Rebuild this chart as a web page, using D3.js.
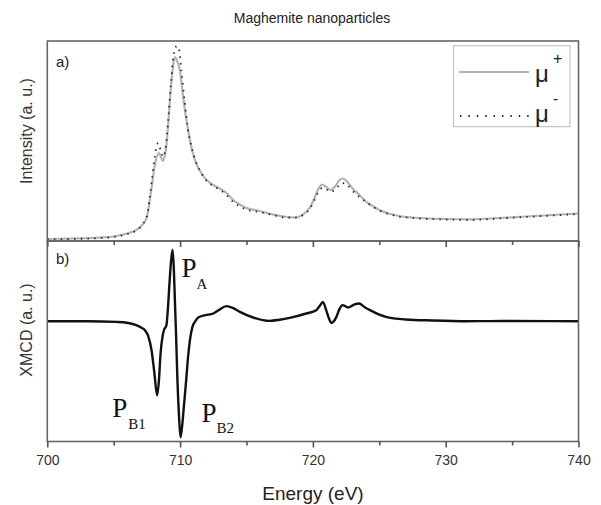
<!DOCTYPE html>
<html><head><meta charset="utf-8">
<script src="https://cdn.jsdelivr.net/npm/d3@7"></script>
<style>
html,body{margin:0;padding:0;background:#fff;}
svg{display:block;font-family:"Liberation Sans",Arial,sans-serif;}
</style></head>
<body>
<svg id="chart" width="601" height="505"></svg>
<script>
// ---------- data ----------
const title = "Maghemite nanoparticles";
const xTicks = [700, 710, 720, 730, 740];
const xMinorTicks = [705, 715, 725, 735];

const energyPlus = [700,702,704,705,706,706.7,707.2,707.5,707.85,708.1,708.4,708.55,708.7,708.85,708.95,709.1,709.25,709.45,709.6,709.75,709.98,710.23,710.6,710.9,711.2,711.6,712,712.5,713,713.5,714,714.5,715,716,717,718,718.7,719.3,719.8,720.15,720.45,720.7,721,721.3,721.7,722,722.25,722.6,723,723.5,724,724.5,725,725.7,726.5,728,730,732,734,736,738,740];
const muPlus = [0.02,0.025,0.035,0.045,0.075,0.11,0.17,0.24,0.53,0.76,0.88,0.84,0.80,0.86,0.94,1.16,1.44,1.73,1.84,1.81,1.71,1.44,1.11,0.91,0.78,0.68,0.61,0.56,0.525,0.48,0.41,0.365,0.33,0.30,0.265,0.24,0.235,0.27,0.34,0.44,0.53,0.565,0.54,0.51,0.55,0.61,0.625,0.59,0.525,0.46,0.395,0.35,0.31,0.275,0.25,0.23,0.22,0.217,0.23,0.245,0.26,0.275];

const energyMinus = [700,702,704,705,706,706.7,707.2,707.5,707.85,708.1,708.35,708.55,708.7,708.9,709.1,709.3,709.5,709.75,709.9,710.1,710.35,710.6,710.9,711.2,711.6,712,712.5,713,713.5,714,714.5,715,716,717,718,718.7,719.3,719.8,720.15,720.45,720.7,721,721.3,721.7,722,722.2,722.6,723,723.6,724,724.5,725,725.7,726.5,728,730,732,734,736,738,740];
const muMinus = [0.015,0.02,0.03,0.04,0.07,0.105,0.17,0.25,0.58,0.85,0.98,0.90,0.84,0.92,1.2,1.55,1.85,1.95,1.93,1.7,1.38,1.11,0.92,0.79,0.68,0.60,0.55,0.51,0.46,0.39,0.345,0.315,0.29,0.26,0.235,0.235,0.265,0.33,0.42,0.50,0.53,0.52,0.49,0.52,0.56,0.58,0.56,0.50,0.43,0.39,0.345,0.305,0.27,0.245,0.225,0.215,0.212,0.225,0.24,0.255,0.27];

const energyX = [700,703,705.2,706,706.7,707.1,707.35,707.6,707.85,708.05,708.27,708.4,708.53,708.68,708.78,708.97,709.08,709.2,709.32,709.43,709.52,709.6,709.7,709.8,709.92,710.03,710.15,710.28,710.45,710.6,710.75,710.93,711.15,711.36,711.9,712.5,712.9,713.5,714,714.5,715.5,716.75,717.5,718.25,719.5,720.25,720.55,720.75,721,721.2,721.4,721.55,721.77,722,722.23,722.65,723.1,723.47,723.9,724.3,725.5,727,729,731.6,735,740];
const xmcd = [0,0,-0.007,-0.015,-0.04,-0.065,-0.09,-0.15,-0.29,-0.5,-0.74,-0.6,-0.32,-0.15,-0.09,-0.04,0.12,0.377,0.6,0.71,0.55,0.24,-0.15,-0.59,-0.95,-1.157,-1.05,-0.857,-0.6,-0.357,-0.18,-0.057,0,0.037,0.06,0.077,0.11,0.15,0.13,0.093,0.037,0.003,0.015,0.033,0.077,0.11,0.16,0.193,0.11,0.03,-0.017,-0.005,0.043,0.12,0.16,0.137,0.165,0.177,0.14,0.11,0.043,0.017,0.007,0,0.002,0];

const peakLabels = [
  {main:"P", sub:"A",  e:709.43, v:0.71,  dx:9,   dy:27, sdx:15, sdy:12},
  {main:"P", sub:"B1", e:708.27, v:-0.74, dx:-45, dy:22, sdx:16, sdy:12},
  {main:"P", sub:"B2", e:710.03, v:-1.157,dx:21,  dy:-15, sdx:15, sdy:11}
];

// ---------- layout ----------
const svg = d3.select("#chart");
const L = 47.3, R = 578.5;
const aTop = 41, aBot = 241, bTop = 241, bBot = 441.5;

const x = d3.scaleLinear().domain([700, 740]).range([L, R]);
const yA = d3.scaleLinear().domain([0, 2]).range([aBot, aTop]);
const yB = d3.scaleLinear().domain([-1.2, 0.8]).range([bBot, bTop]);

const frameCol = "#666";

// curves
const lineA = d3.line().x(d => x(d[0])).y(d => yA(d[1])).curve(d3.curveMonotoneX);
const lineB = d3.line().x(d => x(d[0])).y(d => yB(d[1])).curve(d3.curveMonotoneX);

svg.append("path").datum(d3.zip(energyPlus, muPlus))
  .attr("d", lineA).attr("fill","none").attr("stroke","#b3b3b3").attr("stroke-width",2.2);
svg.append("path").datum(d3.zip(energyMinus, muMinus))
  .attr("d", lineA).attr("fill","none").attr("stroke","#222").attr("stroke-width",1.8)
  .attr("stroke-dasharray","1.4 5.3");
svg.append("path").datum(d3.zip(energyX, xmcd))
  .attr("d", lineB).attr("fill","none").attr("stroke","#111").attr("stroke-width",2.4)
  .attr("stroke-linejoin","round");

// frames
[[aTop,aBot],[bTop,bBot]].forEach(([t,b]) => {
  svg.append("rect").attr("x",L).attr("y",t).attr("width",R-L).attr("height",b-t)
    .attr("fill","none").attr("stroke",frameCol).attr("stroke-width",1.6);
});

// axes (ticks outward / downward)
function drawXAxis(yPos, labels) {
  const g = svg.append("g").attr("transform",`translate(0,${yPos})`);
  g.call(d3.axisBottom(x).tickValues(xTicks).tickSize(6).tickFormat(labels ? d3.format("d") : ""));
  const gm = svg.append("g").attr("transform",`translate(0,${yPos})`);
  gm.call(d3.axisBottom(x).tickValues(xMinorTicks).tickSize(4).tickFormat(""));
  [g, gm].forEach(s => {
    s.select(".domain").remove();
    s.selectAll(".tick line").attr("stroke","#555").attr("stroke-width",1.6);
  });
  g.selectAll(".tick text").attr("font-size",14).attr("fill","#333")
    .attr("font-family","Liberation Sans, Arial, sans-serif").attr("dy","1.05em");
}
drawXAxis(aBot, false);
drawXAxis(bBot, true);

// legend
const lg = svg.append("g");
lg.append("rect").attr("x",453.5).attr("y",45.7).attr("width",116.5).attr("height",81)
  .attr("fill","#fff").attr("stroke","#b8b8b8").attr("stroke-width",1);
lg.append("line").attr("x1",459).attr("x2",529).attr("y1",72).attr("y2",72)
  .attr("stroke","#b3b3b3").attr("stroke-width",2);
lg.append("line").attr("x1",460).attr("x2",529).attr("y1",116).attr("y2",116)
  .attr("stroke","#222").attr("stroke-width",1.8).attr("stroke-dasharray","1.4 7");
const legendItems = [{sup:"+", y:82}, {sup:"-", y:122}];
legendItems.forEach(it => {
  lg.append("text").attr("x",535).attr("y",it.y).attr("font-size",24).attr("fill","#222")
    .text("μ");
  lg.append("text").attr("x",553).attr("y",it.y-18).attr("font-size",16).attr("fill","#222")
    .text(it.sup);
});

// panel tags
svg.append("text").attr("x",56).attr("y",67).attr("font-size",15).attr("fill","#222").text("a)");
svg.append("text").attr("x",56).attr("y",264).attr("font-size",15).attr("fill","#222").text("b)");

// peak annotations
peakLabels.forEach(p => {
  const px = x(p.e) + p.dx, py = yB(p.v) + p.dy;
  svg.append("text").attr("x",px).attr("y",py).attr("font-family","Liberation Serif, Times New Roman, serif")
    .attr("font-size",27).attr("fill","#111").text(p.main);
  svg.append("text").attr("x",px+p.sdx).attr("y",py+p.sdy).attr("font-family","Liberation Serif, Times New Roman, serif")
    .attr("font-size",15).attr("fill","#111").text(p.sub);
});

// titles
svg.append("text").attr("x",312).attr("y",23).attr("text-anchor","middle")
  .attr("font-size",14).attr("fill","#222").text(title);
svg.append("text").attr("x",313).attr("y",500).attr("text-anchor","middle")
  .attr("font-size",19).attr("fill","#222").text("Energy (eV)");
svg.append("text").attr("transform","translate(32,131) rotate(-90)").attr("text-anchor","middle")
  .attr("font-size",16).attr("fill","#333").text("Intensity (a. u.)");
svg.append("text").attr("transform","translate(32,330) rotate(-90)").attr("text-anchor","middle")
  .attr("font-size",16).attr("fill","#333").text("XMCD (a. u.)");
</script>
</body></html>
